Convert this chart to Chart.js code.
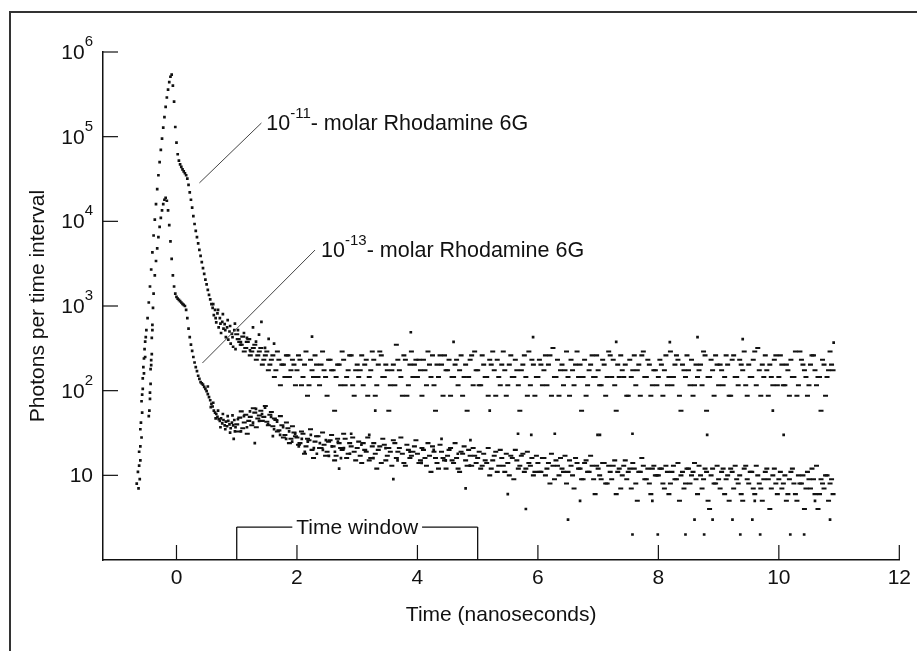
<!DOCTYPE html>
<html>
<head>
<meta charset="utf-8">
<script src="https://cdn.jsdelivr.net/npm/chart.js@4.4.1/dist/chart.umd.min.js"></script>
<style>
  html, body { margin: 0; padding: 0; background: #fff; }
  #wrap { position: relative; width: 917px; height: 651px; overflow: hidden; }
  #frame { position: absolute; left: 9px; top: 11px; right: -4px; bottom: -4px; border-top: 2px solid #333; border-left: 2px solid #333; }
  canvas { position: absolute; left: 0; top: 0; }
</style>
</head>
<body>
<div id="wrap">
  <div id="frame"></div>
  <canvas id="chart" width="917" height="651"></canvas>
</div>
<script>
// Axis ticks
const xTickValues = [0, 2, 4, 6, 8, 10, 12];
const yTickValues = [10, 100, 1000, 10000, 100000, 1000000];
const yTickBases = ['10', '10', '10', '10', '10', '10'];
const yTickExponents = ['', '2', '3', '4', '5', '6'];

// Peak region, time channels (ns)
const peakTime = [
  -0.66, -0.64, -0.62, -0.60, -0.58, -0.56, -0.54, -0.52, -0.50, -0.48,
  -0.46, -0.44, -0.42, -0.40, -0.38, -0.36, -0.34, -0.32, -0.30, -0.28,
  -0.26, -0.24, -0.22, -0.20, -0.18, -0.16, -0.14, -0.12, -0.10, -0.08,
  -0.06, -0.04, -0.02, 0.00, 0.02, 0.04, 0.06, 0.08, 0.10, 0.12,
  0.14, 0.16, 0.18, 0.20, 0.22, 0.24, 0.26, 0.28, 0.30, 0.32,
  0.34, 0.36, 0.38, 0.40, 0.42, 0.44, 0.46, 0.48, 0.50, 0.52,
  0.54, 0.56, 0.58, 0.60, 0.62, 0.64, 0.66, 0.68, 0.70, 0.72,
  0.74, 0.76, 0.78, 0.80, 0.82, 0.84, 0.86, 0.88, 0.90, 0.92,
  0.94, 0.96, 0.98
];

// 10^-11 molar, peak region
const peakHigh = [
  8, 11, 19, 35, 75, 140, 240, 380, 520, 720,
  1100, 1700, 2700, 4300, 6800, 10500, 16000, 24000, 35000, 50000,
  70000, 95000, 128000, 170000, 225000, 290000, 360000, 440000, 510000, 540000,
  400000, 260000, 130000, 85000, 62000, 52000, 47000, 44000, 41000, 39000,
  37000, 35000, 32000, 27000, 22000, 18000, 14500, 11500, 9300, 7700,
  6500, 5500, 4600, 3900, 3300, 2800, 2400, 2050, 1800, 1550,
  1350, 1200, 1050, 950, 780, 900, 640, 820, 560, 720,
  480, 650, 540, 610, 430, 560, 400, 500, 360, 470,
  330, 520, 310
];

// 10^-13 molar, peak region
const peakLow = [
  null, null, null, null, null, null, null, null, null, null,
  50, 80, 200, 600, 1400, 2300, 3400, 4800, 6500, 8600,
  11000, 13500, 16000, 18000, 19000, 17500, 13500, 9000, 5800, 3600,
  2300, 1700, 1400, 1280, 1220, 1180, 1140, 1100, 1060, 1030,
  1000, 900, 720, 540, 430, 350, 295, 250, 215, 190,
  170, 150, 138, 126, 122, 118, 111, 105, 99, 91,
  84, 77, 70, 65, 58, 55, 53, 49, 46, 44,
  47, 41, 45, 39, 43, 38, 44, 40, 36, 42,
  39, 45, 37
];

// Tail, time channels (ns)
const tailTime = [
  1.00, 1.05, 1.10, 1.15, 1.20, 1.25, 1.30, 1.35, 1.40, 1.45, 1.50, 1.55, 1.60, 1.65, 1.70, 1.75, 1.80, 1.85, 1.90, 1.95,
  2.00, 2.05, 2.10, 2.15, 2.20, 2.25, 2.30, 2.35, 2.40, 2.45, 2.50, 2.55, 2.60, 2.65, 2.70, 2.75, 2.80, 2.85, 2.90, 2.95,
  3.00, 3.05, 3.10, 3.15, 3.20, 3.25, 3.30, 3.35, 3.40, 3.45, 3.50, 3.55, 3.60, 3.65, 3.70, 3.75, 3.80, 3.85, 3.90, 3.95,
  4.00, 4.05, 4.10, 4.15, 4.20, 4.25, 4.30, 4.35, 4.40, 4.45, 4.50, 4.55, 4.60, 4.65, 4.70, 4.75, 4.80, 4.85, 4.90, 4.95,
  5.00, 5.05, 5.10, 5.15, 5.20, 5.25, 5.30, 5.35, 5.40, 5.45, 5.50, 5.55, 5.60, 5.65, 5.70, 5.75, 5.80, 5.85, 5.90, 5.95,
  6.00, 6.05, 6.10, 6.15, 6.20, 6.25, 6.30, 6.35, 6.40, 6.45, 6.50, 6.55, 6.60, 6.65, 6.70, 6.75, 6.80, 6.85, 6.90, 6.95,
  7.00, 7.05, 7.10, 7.15, 7.20, 7.25, 7.30, 7.35, 7.40, 7.45, 7.50, 7.55, 7.60, 7.65, 7.70, 7.75, 7.80, 7.85, 7.90, 7.95,
  8.00, 8.05, 8.10, 8.15, 8.20, 8.25, 8.30, 8.35, 8.40, 8.45, 8.50, 8.55, 8.60, 8.65, 8.70, 8.75, 8.80, 8.85, 8.90, 8.95,
  9.00, 9.05, 9.10, 9.15, 9.20, 9.25, 9.30, 9.35, 9.40, 9.45, 9.50, 9.55, 9.60, 9.65, 9.70, 9.75, 9.80, 9.85, 9.90, 9.95,
  10.00, 10.05, 10.10, 10.15, 10.20, 10.25, 10.30, 10.35, 10.40, 10.45, 10.50, 10.55, 10.60, 10.65, 10.70, 10.75, 10.80, 10.85, 10.90
];

// 10^-11 molar, tail
const tailHigh = [
  464, 377, 435, 319, 406, 290, 348, 261, 319, 232, 290, 203, 261, 174, 232, 203, 145, 261, 174, 203,
  174, 232, 145, 290, 116, 174, 261, 145, 203, 174, 87, 232, 174, 145, 203, 290, 116, 174, 261, 87,
  203, 174, 116, 232, 145, 290, 87, 203, 261, 145, 174, 116, 203, 348, 174, 87, 232, 116, 290, 203,
  145, 174, 232, 116, 203, 261, 58, 145, 203, 261, 174, 87, 145, 232, 174, 87, 203, 145, 261, 290,
  174, 116, 203, 145, 232, 290, 87, 145, 203, 174, 116, 261, 145, 174, 58, 203, 145, 290, 232, 87,
  145, 203, 174, 116, 261, 319, 145, 87, 203, 174, 145, 232, 116, 290, 203, 145, 87, 174, 261, 145,
  174, 116, 203, 145, 261, 232, 58, 145, 174, 203, 87, 145, 261, 174, 87, 290, 145, 203, 116, 174,
  145, 203, 174, 116, 290, 145, 261, 87, 203, 145, 174, 232, 116, 145, 203, 290, 58, 145, 174, 261,
  116, 174, 145, 203, 87, 261, 145, 232, 174, 116, 203, 145, 290, 319, 87, 145, 174, 203, 116, 261,
  145, 203, 116, 174, 232, 145, 87, 290, 203, 145, 116, 261, 174, 145, 58, 203, 145, 290, 174
];

// 10^-13 molar, tail
const tailLow = [
  40, 48, 36, 52, 44, 39, 55, 47, 58, 49, 43, 52, 38, 45, 34, 39, 30, 36, 27, 32,
  28, 24, 31, 22, 26, 20, 25, 29, 21, 23, 19, 26, 22, 17, 24, 20, 27, 18, 22, 19,
  21, 17, 24, 19, 15, 22, 18, 20, 14, 23, 17, 19, 26, 16, 21, 18, 13, 20, 17, 22,
  18, 15, 20, 13, 17, 22, 16, 12, 19, 15, 17, 21, 14, 16, 11, 18, 15, 20, 13, 17,
  16, 12, 18, 14, 10, 15, 19, 13, 16, 11, 14, 17, 9, 15, 13, 18, 12, 14, 16, 11,
  14, 11, 16, 12, 8, 13, 15, 10, 12, 17, 11, 13, 7, 14, 12, 9, 15, 11, 13, 6,
  12, 9, 14, 8, 11, 13, 6, 12, 10, 15, 11, 7, 12, 5, 11, 13, 9, 8, 12, 10,
  10, 12, 7, 11, 8, 13, 9, 5, 11, 8, 12, 10, 14, 6, 10, 9, 11, 4, 12, 8,
  9, 11, 6, 10, 12, 7, 9, 10, 5, 13, 8, 11, 6, 10, 7, 9, 12, 4, 10, 8,
  9, 7, 10, 6, 11, 8, 5, 8, 10, 7, 9, 12, 6, 4, 9, 7, 10, 8, 6
];

// Tail, in-between channels (ns)
const tailTimeB = [
  1.025, 1.075, 1.125, 1.175, 1.225, 1.275, 1.325, 1.375, 1.425, 1.475, 1.525, 1.575, 1.625, 1.675, 1.725, 1.775, 1.825, 1.875, 1.925, 1.975,
  2.025, 2.075, 2.125, 2.175, 2.225, 2.275, 2.325, 2.375, 2.425, 2.475, 2.525, 2.575, 2.625, 2.675, 2.725, 2.775, 2.825, 2.875, 2.925, 2.975,
  3.025, 3.075, 3.125, 3.175, 3.225, 3.275, 3.325, 3.375, 3.425, 3.475, 3.525, 3.575, 3.625, 3.675, 3.725, 3.775, 3.825, 3.875, 3.925, 3.975,
  4.025, 4.075, 4.125, 4.175, 4.225, 4.275, 4.325, 4.375, 4.425, 4.475, 4.525, 4.575, 4.625, 4.675, 4.725, 4.775, 4.825, 4.875, 4.925, 4.975,
  5.025, 5.075, 5.125, 5.175, 5.225, 5.275, 5.325, 5.375, 5.425, 5.475, 5.525, 5.575, 5.625, 5.675, 5.725, 5.775, 5.825, 5.875, 5.925, 5.975,
  6.025, 6.075, 6.125, 6.175, 6.225, 6.275, 6.325, 6.375, 6.425, 6.475, 6.525, 6.575, 6.625, 6.675, 6.725, 6.775, 6.825, 6.875, 6.925, 6.975,
  7.025, 7.075, 7.125, 7.175, 7.225, 7.275, 7.325, 7.375, 7.425, 7.475, 7.525, 7.575, 7.625, 7.675, 7.725, 7.775, 7.825, 7.875, 7.925, 7.975,
  8.025, 8.075, 8.125, 8.175, 8.225, 8.275, 8.325, 8.375, 8.425, 8.475, 8.525, 8.575, 8.625, 8.675, 8.725, 8.775, 8.825, 8.875, 8.925, 8.975,
  9.025, 9.075, 9.125, 9.175, 9.225, 9.275, 9.325, 9.375, 9.425, 9.475, 9.525, 9.575, 9.625, 9.675, 9.725, 9.775, 9.825, 9.875, 9.925, 9.975,
  10.025, 10.075, 10.125, 10.175, 10.225, 10.275, 10.325, 10.375, 10.425, 10.475, 10.525, 10.575, 10.625, 10.675, 10.725, 10.775, 10.825, 10.875
];

// 10^-11 molar, in-between channels
const tailHighB = [
  406, 348, 290, 377, 261, 319, 232, 290, 203, 261, 174, 232, 145, 290, 116, 203, 261, 145, 232, 116,
  261, 116, 203, 87, 232, 145, 203, 116, 290, 145, 232, 174, 58, 203, 116, 232, 145, 261, 116, 174,
  145, 261, 203, 87, 174, 232, 116, 290, 145, 203, 58, 174, 116, 232, 145, 261, 87, 203, 145, 232,
  232, 87, 174, 290, 145, 116, 203, 261, 87, 174, 232, 145, 203, 116, 261, 145, 58, 232, 116, 174,
  116, 261, 145, 87, 203, 174, 232, 116, 290, 87, 203, 145, 232, 116, 174, 261, 87, 116, 203, 145,
  232, 116, 261, 203, 87, 145, 232, 174, 116, 290, 87, 174, 203, 145, 58, 232, 116, 203, 145, 261,
  116, 232, 87, 290, 145, 116, 203, 261, 145, 87, 232, 174, 116, 203, 261, 145, 232, 87, 174, 116,
  232, 87, 261, 145, 116, 203, 232, 58, 174, 261, 116, 87, 203, 174, 116, 261, 145, 232, 87, 203,
  203, 116, 261, 87, 232, 145, 116, 203, 290, 87, 145, 232, 116, 174, 203, 261, 87, 145, 232, 116,
  261, 116, 203, 87, 145, 290, 116, 232, 174, 87, 203, 261, 116, 145, 232, 87, 174, 203
];

// 10^-13 molar, in-between channels
const tailLowB = [
  33, 57, 42, 31, 49, 62, 37, 51, 44, 66, 39, 56, 47, 33, 50, 28, 42, 24, 38, 29,
  23, 33, 18, 27, 35, 16, 29, 21, 32, 17, 25, 30, 15, 27, 21, 31, 16, 24, 28, 15,
  25, 14, 20, 28, 16, 24, 12, 22, 27, 15, 21, 13, 24, 19, 28, 14, 23, 16, 19, 26,
  14, 21, 16, 24, 11, 19, 14, 23, 16, 12, 20, 15, 24, 12, 19, 22, 13, 17, 21, 14,
  19, 13, 15, 21, 12, 17, 11, 20, 13, 18, 10, 16, 20, 12, 17, 11, 19, 13, 10, 17,
  11, 16, 10, 14, 18, 9, 13, 16, 11, 8, 15, 10, 16, 12, 9, 14, 11, 17, 9, 13,
  10, 14, 8, 13, 9, 15, 11, 7, 13, 9, 12, 14, 8, 11, 16, 9, 12, 6, 13, 10,
  12, 8, 13, 6, 11, 9, 14, 10, 7, 12, 8, 11, 9, 13, 7, 12, 5, 10, 8, 13,
  7, 12, 9, 5, 11, 13, 8, 6, 12, 9, 11, 7, 13, 8, 5, 11, 9, 7, 12, 6,
  11, 8, 5, 9, 12, 6, 10, 8, 4, 11, 7, 9, 13, 6, 8, 10, 5, 9
];

// extra scattered counts [time, photons]
const extraHigh = [
  [-0.63, 7], [-0.62, 13], [-0.61, 9], [-0.60, 22], [-0.60, 15], [-0.59, 42], [-0.58, 28], [-0.57, 90],
  [-0.57, 55], [-0.56, 105], [-0.55, 190], [-0.54, 160], [-0.53, 310], [-0.52, 250], [-0.51, 430],
  [0.61, 1050], [0.65, 720], [0.69, 900], [0.73, 620], [0.77, 800], [0.81, 520], [0.85, 680], [0.89, 580],
  [0.93, 430], [0.97, 620], [1.02, 520], [1.07, 350], [1.12, 480], [1.17, 420], [1.22, 300], [1.27, 560],
  [1.32, 380], [1.37, 460], [1.41, 650], [1.47, 320], [1.53, 410], [1.62, 360],
  [2.25, 435], [3.89, 490], [4.60, 377], [5.92, 430], [7.30, 377], [8.19, 375], [8.65, 430], [9.40, 406], [10.91, 370],
  [3.30, 58], [5.20, 58], [9.90, 58]
];

const extraLow = [
  [-0.45, 58], [-0.44, 95], [-0.43, 180], [-0.43, 120], [-0.42, 230], [-0.41, 420], [-0.41, 270], [-0.40, 520], [-0.39, 950],
  [0.52, 112], [0.57, 64], [0.61, 72], [0.65, 47], [0.69, 58], [0.73, 37], [0.77, 53], [0.81, 35], [0.85, 50],
  [0.89, 32], [0.93, 51], [0.97, 33], [1.02, 46], [1.07, 33], [1.12, 50], [1.17, 37], [1.22, 57], [1.27, 42],
  [1.32, 61], [1.37, 44], [1.42, 53], [1.47, 63], [1.52, 40], [1.57, 49], [1.62, 35], [1.67, 43], [1.72, 30],
  [1.77, 37], [1.82, 27], [1.87, 33], [1.92, 25], [1.97, 31], [2.03, 22], [2.08, 27], [2.13, 19], [2.18, 25],
  [2.23, 30], [2.28, 21], [2.33, 18], [2.38, 24], [2.43, 20], [2.48, 26], [2.53, 17], [2.58, 22], [2.63, 19],
  [2.68, 25], [2.73, 16], [2.78, 21], [2.88, 18], [3.07, 23], [3.27, 16], [3.47, 21], [3.67, 15], [3.87, 19],
  [4.07, 14], [4.27, 20], [4.47, 15], [4.67, 18], [4.87, 13],
  [0.95, 27], [1.30, 24], [1.60, 29], [2.90, 31], [3.20, 30], [4.40, 27], [4.88, 26], [5.67, 31], [5.89, 30],
  [6.28, 31], [6.99, 30], [7.03, 30], [7.57, 31], [8.81, 30], [10.08, 30],
  [6.50, 3], [7.57, 2], [7.99, 2], [8.45, 2], [8.60, 3], [8.76, 2], [8.90, 3], [9.23, 3], [9.36, 2], [9.56, 3],
  [9.69, 2], [10.19, 2], [10.42, 2], [10.85, 3], [5.80, 4], [6.70, 5], [7.90, 5], [9.60, 5], [10.60, 5],
  [5.50, 6], [4.80, 7], [3.60, 9], [2.70, 12]
];

// Labels on the curves
const curveLabels = [
  { exp: '-11', text: '- molar Rhodamine 6G', at: [1.49, 120000], from: [0.38, 28400], to: [1.41, 145000] },
  { exp: '-13', text: '- molar Rhodamine 6G', at: [2.40, 3790], from: [0.43, 212], to: [2.30, 4580] },
];
const timeWindow = { start: 1, end: 5, top: 2.45, label: 'Time window' };

const FONT = '"Liberation Sans", Arial, Helvetica, sans-serif';
const INK = '#111';

function toPoints(times, values) {
  const pts = [];
  times.forEach((t, i) => {
    if (values[i] != null) pts.push({ x: t, y: values[i] });
  });
  return pts;
}

function pairsToPoints(pairs) {
  return pairs.map(([x, y]) => ({ x, y }));
}

const dotStyle = {
  showLine: false,
  pointStyle: 'rect',
  pointRadius: 1.9,
  pointHoverRadius: 1.9,
  pointBackgroundColor: INK,
  pointBorderWidth: 0,
};

const dashStyle = {
  showLine: false,
  pointStyle: 'line',
  pointRadius: 2.5,
  pointHoverRadius: 2.5,
  pointBorderColor: INK,
  pointBorderWidth: 2.1,
};

function strokeLine(ctx, x1, y1, x2, y2) {
  ctx.beginPath();
  ctx.moveTo(x1, y1);
  ctx.lineTo(x2, y2);
  ctx.stroke();
}

// ticks inward, superscript labels, annotations
const decorationsPlugin = {
  id: 'decorations',
  afterDraw(chart) {
    const { ctx, chartArea, scales: { x, y } } = chart;
    ctx.save();
    ctx.strokeStyle = INK;
    ctx.fillStyle = INK;

    ctx.lineWidth = 1.2;
    xTickValues.forEach((v) => {
      const px = x.getPixelForValue(v);
      strokeLine(ctx, px, chartArea.bottom, px, chartArea.bottom - 15);
    });
    yTickValues.forEach((v) => {
      const py = y.getPixelForValue(v);
      strokeLine(ctx, chartArea.left, py, chartArea.left + 15, py);
    });

    // y tick labels 10^n
    const right = chartArea.left - 10;
    ctx.textAlign = 'right';
    ctx.textBaseline = 'alphabetic';
    yTickValues.forEach((v, i) => {
      const py = y.getPixelForValue(v);
      const exp = yTickExponents[i];
      ctx.font = `15px ${FONT}`;
      const expW = exp ? ctx.measureText(exp).width : 0;
      if (exp) ctx.fillText(exp, right, py - 6);
      ctx.font = `21px ${FONT}`;
      ctx.fillText(yTickBases[i], right - expW, py + 7);
    });

    // curve labels with leader lines
    ctx.textAlign = 'left';
    curveLabels.forEach((lab) => {
      ctx.strokeStyle = '#444';
      ctx.lineWidth = 1;
      strokeLine(ctx, x.getPixelForValue(lab.from[0]), y.getPixelForValue(lab.from[1]),
        x.getPixelForValue(lab.to[0]), y.getPixelForValue(lab.to[1]));
      let px = x.getPixelForValue(lab.at[0]);
      const py = y.getPixelForValue(lab.at[1]);
      ctx.font = `21.5px ${FONT}`;
      ctx.fillText('10', px, py);
      px += ctx.measureText('10').width;
      ctx.font = `15px ${FONT}`;
      ctx.fillText(lab.exp, px, py - 12);
      px += ctx.measureText(lab.exp).width;
      ctx.font = `21.5px ${FONT}`;
      ctx.fillText(lab.text, px, py);
    });

    // time window bracket
    ctx.strokeStyle = INK;
    ctx.lineWidth = 1.3;
    const x1 = x.getPixelForValue(timeWindow.start);
    const x2 = x.getPixelForValue(timeWindow.end);
    const yTop = y.getPixelForValue(timeWindow.top);
    const mid = (x1 + x2) / 2;
    ctx.font = `21px ${FONT}`;
    const tw = ctx.measureText(timeWindow.label).width;
    strokeLine(ctx, x1, chartArea.bottom, x1, yTop);
    strokeLine(ctx, x1, yTop, mid - tw / 2 - 4, yTop);
    strokeLine(ctx, mid + tw / 2 + 4, yTop, x2, yTop);
    strokeLine(ctx, x2, yTop, x2, chartArea.bottom);
    ctx.textAlign = 'center';
    ctx.textBaseline = 'middle';
    ctx.fillText(timeWindow.label, mid, yTop + 1);

    ctx.restore();
  },
};

new Chart(document.getElementById('chart').getContext('2d'), {
  type: 'scatter',
  data: {
    datasets: [
      { label: '10^-11 peak', data: toPoints(peakTime, peakHigh), ...dotStyle },
      { label: '10^-13 peak', data: toPoints(peakTime, peakLow), ...dotStyle },
      { label: '10^-11 tail', data: toPoints(tailTime, tailHigh), ...dashStyle },
      { label: '10^-13 tail', data: toPoints(tailTime, tailLow), ...dashStyle },
      { label: '10^-11 tail b', data: toPoints(tailTimeB, tailHighB), ...dashStyle },
      { label: '10^-13 tail b', data: toPoints(tailTimeB, tailLowB), ...dashStyle },
      { label: '10^-11 extra', data: pairsToPoints(extraHigh), ...dotStyle },
      { label: '10^-13 extra', data: pairsToPoints(extraLow), ...dotStyle },
    ],
  },
  options: {
    responsive: false,
    animation: false,
    events: [],
    layout: { padding: { top: 52, right: 14, left: 0, bottom: 0 } },
    plugins: {
      legend: { display: false },
      tooltip: { enabled: false },
    },
    scales: {
      x: {
        type: 'linear',
        min: -1.22,
        max: 12,
        afterBuildTicks: (scale) => {
          scale.ticks = xTickValues.map((v) => ({ value: v }));
        },
        afterFit: (scale) => {
          scale.height = 91;
        },
        grid: { display: false, drawTicks: false },
        border: { display: true, color: INK, width: 1.5 },
        ticks: {
          color: INK,
          font: { family: FONT, size: 21 },
          padding: 6,
          maxRotation: 0,
          autoSkip: false,
        },
        title: {
          display: true,
          text: 'Time (nanoseconds)',
          color: INK,
          font: { family: FONT, size: 21 },
          padding: { bottom: 23 },
        },
      },
      y: {
        type: 'logarithmic',
        min: 1,
        max: 1000000,
        afterFit: (scale) => {
          scale.width = 103;
        },
        grid: { display: false, drawTicks: false },
        border: { display: true, color: INK, width: 1.5 },
        ticks: { display: false },
        title: {
          display: true,
          text: 'Photons per time interval',
          color: INK,
          font: { family: FONT, size: 21 },
          padding: { top: 26 },
        },
      },
    },
  },
  plugins: [decorationsPlugin],
});
</script>
</body>
</html>
